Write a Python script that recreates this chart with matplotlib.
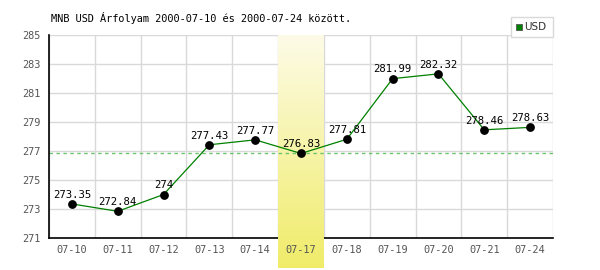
import numpy as np
import matplotlib
matplotlib.use("Agg")
import matplotlib.pyplot as plt
from matplotlib.patches import Rectangle
from matplotlib.colors import LinearSegmentedColormap

dates = ["07-10", "07-11", "07-12", "07-13", "07-14", "07-17",
         "07-18", "07-19", "07-20", "07-21", "07-24"]
values = [273.35, 272.84, 274, 277.43, 277.77, 276.83,
          277.81, 281.99, 282.32, 278.46, 278.63]
labels = ["273.35", "272.84", "274", "277.43", "277.77", "276.83",
          "277.81", "281.99", "282.32", "278.46", "278.63"]
yticks = [271, 273, 275, 277, 279, 281, 283, 285]
highlight = "07-17"
ref_value = 276.83
title = "MNB USD Árfolyam 2000-07-10 és 2000-07-24 között."
series_name = "USD"

W, H = 600, 270
fig = plt.figure(figsize=(6, 2.7), dpi=100)
L, R, T, B = 49, 553, 35, 238
ax = fig.add_axes([L / W, 1 - B / H, (R - L) / W, (B - T) / H])
ax.set_facecolor("none")

n = len(dates)
x = np.arange(n)
ax.set_xlim(-0.5, n - 0.5)
ax.set_ylim(271, 285)

grid_c = "#d9d9d9"
for yv in yticks:
    ax.axhline(yv, color=grid_c, lw=1, zorder=0.5)
for b in np.arange(n + 1) - 0.5:
    ax.axvline(b, color=grid_c, lw=1, zorder=0.5)

# highlight band with gradient (extends below axes)
hi = dates.index(highlight)
y_bottom = 271 - (268 - B) / (B - T) * 14
grad = np.linspace(0, 1, 100).reshape(-1, 1)
cmap = LinearSegmentedColormap.from_list("hl", ["#fdfbe6", "#f0ec6a"])
ax.imshow(grad, extent=(hi - 0.5, hi + 0.5, y_bottom, 285), aspect="auto",
          cmap=cmap, origin="upper", clip_on=False, zorder=1.2,
          interpolation="bilinear")

ax.axhline(ref_value, color="#6cc46c", lw=1.0, ls=(0, (2.5, 2.5)), zorder=1.5)

ax.plot(x, values, color="#008000", lw=0.9, zorder=3)
ax.scatter(x, values, s=28, color="black", zorder=4)
mono = "DejaVu Sans Mono"
fs = 7.4
for xi, v, lab in zip(x, values, labels):
    ax.annotate(lab, (xi, v), xytext=(0, 3), textcoords="offset points",
                ha="center", va="bottom", fontsize=fs + 0.3, family=mono,
                color="black", zorder=5)

for s in ["top", "right"]:
    ax.spines[s].set_visible(False)
ax.spines["left"].set_color("black")
ax.spines["left"].set_linewidth(1.2)
ax.spines["left"].set_zorder(2)
ax.spines["bottom"].set_color("black")
ax.spines["bottom"].set_linewidth(1.2)
ax.spines["bottom"].set_zorder(1.0)

ax.set_yticks(yticks)
ax.set_yticklabels([str(v) for v in yticks])
ax.set_xticks(x)
ax.set_xticklabels(dates)
ax.tick_params(axis="both", length=0, labelsize=fs, labelcolor="#555555")
ax.tick_params(axis="x", pad=5)
ax.tick_params(axis="y", pad=6)
for t in ax.get_xticklabels() + ax.get_yticklabels():
    t.set_family(mono)
ax.xaxis.set_zorder(3)

fig.text(51 / W, 1 - 18 / H, title, ha="left", va="center", fontsize=fs,
         family=mono, color="black")

# legend box
fig.patches.append(Rectangle((511 / W, 1 - 37 / H), 42 / W, 20 / H,
                             transform=fig.transFigure, facecolor="white",
                             edgecolor="#d9d9d9", lw=1, zorder=5))
fig.patches.append(Rectangle((516 / W, 1 - 30 / H), 6 / W, 6 / H,
                             transform=fig.transFigure, facecolor="#008000",
                             edgecolor="#555555", lw=0.6, zorder=6))
fig.text(524 / W, 1 - 27.5 / H, series_name, ha="left", va="center",
         fontsize=7.5, color="#333333", zorder=7)

fig.savefig("out.png", dpi=100)
